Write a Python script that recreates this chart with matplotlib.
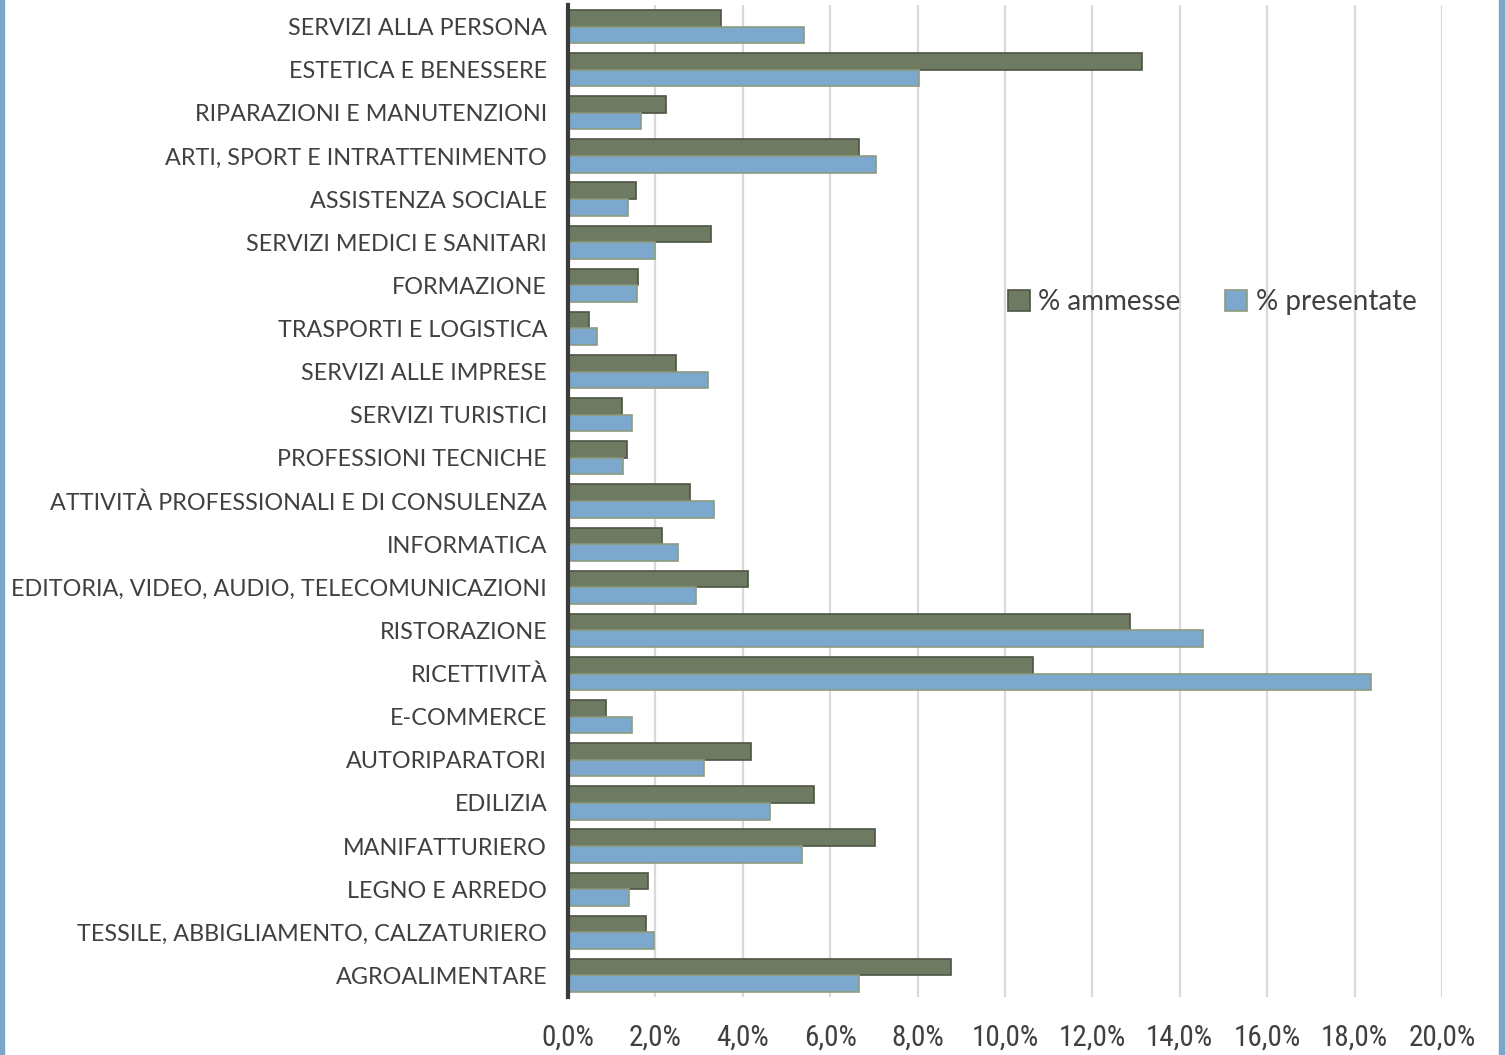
"""Bar chart: % ammesse vs % presentate by sector (horizontal, grouped)."""
import matplotlib
matplotlib.use("Agg")
import matplotlib.pyplot as plt
from matplotlib.patches import Rectangle
from matplotlib.ticker import FuncFormatter
from matplotlib import font_manager
import numpy as np

# Categories, top to bottom as drawn
SECTORS = [
    "SERVIZI ALLA PERSONA",
    "ESTETICA E BENESSERE",
    "RIPARAZIONI E MANUTENZIONI",
    "ARTI, SPORT E INTRATTENIMENTO",
    "ASSISTENZA SOCIALE",
    "SERVIZI MEDICI E SANITARI",
    "FORMAZIONE",
    "TRASPORTI E LOGISTICA",
    "SERVIZI ALLE IMPRESE",
    "SERVIZI TURISTICI",
    "PROFESSIONI TECNICHE",
    "ATTIVITÀ PROFESSIONALI E DI CONSULENZA",
    "INFORMATICA",
    "EDITORIA, VIDEO, AUDIO, TELECOMUNICAZIONI",
    "RISTORAZIONE",
    "RICETTIVITÀ",
    "E-COMMERCE",
    "AUTORIPARATORI",
    "EDILIZIA",
    "MANIFATTURIERO",
    "LEGNO E ARREDO",
    "TESSILE, ABBIGLIAMENTO, CALZATURIERO",
    "AGROALIMENTARE",
]

# percentages
PCT_AMMESSE = [3.49, 13.13, 2.25, 6.65, 1.56, 3.27, 1.61, 0.48, 2.46, 1.23,
               1.34, 2.79, 2.14, 4.13, 12.87, 10.65, 0.86, 4.18, 5.64, 7.03,
               1.82, 1.78, 8.76]
PCT_PRESENTATE = [5.41, 8.03, 1.67, 7.04, 1.37, 1.99, 1.59, 0.66, 3.21, 1.46,
                  1.27, 3.35, 2.51, 2.94, 14.52, 18.37, 1.46, 3.11, 4.62, 5.35,
                  1.40, 1.97, 6.67]

SERIES_LABELS = ["% ammesse", "% presentate"]
X_TICKS = [0, 2, 4, 6, 8, 10, 12, 14, 16, 18, 20]

_C_AMM = "#6E7A61"
_C_AMM_EDGE = "#4E5446"
_C_PRES = "#7BA8CC"
_C_PRES_EDGE = "#8E9B7E"
_C_TEXT = "#404040"
_C_BORDER = "#7BA7CB"

plt.rcParams["font.family"] = ["Lato", "DejaVu Sans"]

# narrow face for the x tick labels if one is around
_installed = {f.name for f in font_manager.fontManager.ttflist}
_narrow = [n for n in ("Liberation Sans Narrow", "Roboto Condensed", "Open Sans Condensed",
                       "DejaVu Sans Condensed") if n in _installed]
_xfam = (_narrow[:1] or ["Lato"]) + ["DejaVu Sans"]
_xsize = 21 if _narrow else 17.5

fig = plt.figure(figsize=(15.05, 10.55), dpi=100)
ax = fig.add_axes([568 / 1505, 1 - 997 / 1055, (1442 - 568) / 1505, (997 - 5) / 1055])

y = np.arange(len(SECTORS))
h = 0.385
ax.barh(y - h / 2, PCT_AMMESSE, height=h, color=_C_AMM, edgecolor=_C_AMM_EDGE,
        linewidth=1.2, label=SERIES_LABELS[0], zorder=3)
ax.barh(y + h / 2, PCT_PRESENTATE, height=h, color=_C_PRES, edgecolor=_C_PRES_EDGE,
        linewidth=1.2, label=SERIES_LABELS[1], zorder=3)

ax.set_ylim(len(SECTORS) - 0.5, -0.5)
ax.set_xlim(0, 20)
ax.set_xticks(X_TICKS)
ax.xaxis.set_major_formatter(FuncFormatter(lambda v, _: f"{v:.1f}%".replace(".", ",")))
ax.set_yticks(y)
ax.set_yticklabels(SECTORS, fontsize=16.8, color=_C_TEXT)
ax.tick_params(axis="y", length=0, pad=15)
ax.tick_params(axis="x", length=0, pad=19, labelsize=_xsize, labelcolor=_C_TEXT)
for lbl in ax.get_xticklabels():
    lbl.set_family(_xfam)

ax.grid(True, axis="x", color="#D9D9D9", linewidth=1.6, zorder=0)
ax.set_axisbelow(True)
for side in ("top", "right", "bottom"):
    ax.spines[side].set_visible(False)
ax.spines["left"].set_color("#3A3A3A")
ax.spines["left"].set_linewidth(3)
ax.spines["left"].set_zorder(5)

leg = ax.legend(loc="center", bbox_to_anchor=(1212 / 1505, 1 - 302 / 1055),
                bbox_transform=fig.transFigure, ncol=2, frameon=False,
                fontsize=20, handlelength=0.8, handleheight=0.8,
                handletextpad=0.3, columnspacing=1.6)
for t in leg.get_texts():
    t.set_color(_C_TEXT)

# blue frame visible at the left and right image edges
fig.patches.append(Rectangle((0, 0), 4 / 1505, 1, transform=fig.transFigure,
                             color=_C_BORDER, zorder=10))
fig.patches.append(Rectangle((1 - 6 / 1505, 0), 6 / 1505, 1, transform=fig.transFigure,
                             color=_C_BORDER, zorder=10))

fig.savefig("out.png", dpi=100)
